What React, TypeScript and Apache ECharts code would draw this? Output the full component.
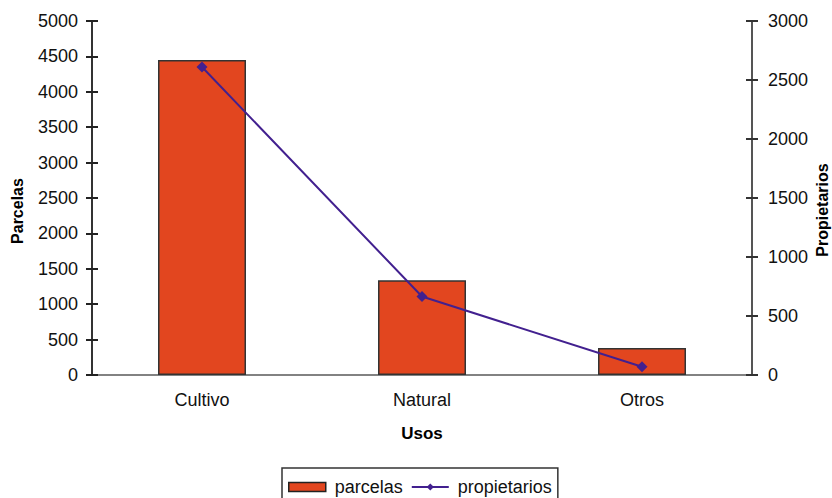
import React, { useEffect, useRef } from "react";
import * as echarts from "echarts";

const categories = ["Cultivo", "Natural", "Otros"];
const parcelas = [4450, 1340, 380];
const propietarios = [2610, 665, 70];
const leftTicks = { min: 0, max: 5000, interval: 500 };
const rightTicks = { min: 0, max: 3000, interval: 500 };

const FONT = "'Liberation Sans', Arial, sans-serif";

export default function App() {
  const ref = useRef<HTMLDivElement>(null);
  useEffect(() => {
    const chart = echarts.init(ref.current!, null, { renderer: "svg" });
    const plain = (v: number) => String(v);
    const labelStyle = { color: "#111", fontSize: 18, fontFamily: FONT };
    chart.setOption({
      animation: false,
      grid: { left: 92, right: 80, top: 21, bottom: 123 },
      textStyle: { fontFamily: FONT },
      xAxis: [
        {
          type: "category",
          data: categories,
          position: "bottom",
          name: "Usos",
          nameLocation: "middle",
          nameGap: 50,
          nameTextStyle: { fontWeight: "bold", fontSize: 17, color: "#000", fontFamily: FONT },
          axisLine: { lineStyle: { color: "#000", width: 1.5 } },
          axisTick: { length: 7, lineStyle: { color: "#222", width: 1.5 } },
          axisLabel: { ...labelStyle, margin: 16 },
        },
        {
          type: "category",
          data: categories,
          position: "top",
          axisLine: { lineStyle: { color: "#999", width: 1.5 } },
          axisTick: { show: false },
          axisLabel: { show: false },
        },
      ],
      yAxis: [
        {
          type: "value",
          ...leftTicks,
          position: "left",
          axisLine: { show: true, lineStyle: { color: "#333", width: 2 } },
          axisTick: { show: true, length: 6, lineStyle: { color: "#222", width: 2 } },
          axisLabel: { ...labelStyle, margin: 14, formatter: plain },
          splitLine: { show: false },
        },
        {
          type: "value",
          ...rightTicks,
          position: "right",
          axisLine: { show: true, lineStyle: { color: "#555", width: 2 } },
          axisTick: { show: true, length: 6, lineStyle: { color: "#333", width: 2 } },
          axisLabel: { ...labelStyle, margin: 16, formatter: plain },
          splitLine: { show: false },
        },
        {
          type: "value",
          ...leftTicks,
          position: "left",
          axisLine: { show: false },
          axisTick: { show: true, inside: true, length: 6, lineStyle: { color: "#222", width: 2 } },
          axisLabel: { show: false },
          splitLine: { show: false },
        },
        {
          type: "value",
          ...rightTicks,
          position: "right",
          axisLine: { show: false },
          axisTick: { show: true, inside: true, length: 6, lineStyle: { color: "#333", width: 2 } },
          axisLabel: { show: false },
          splitLine: { show: false },
        },
      ],
      legend: {
        top: 468,
        left: 282,
        itemGap: 8,
        padding: [10, 6, 12, 6],
        borderColor: "#333",
        borderWidth: 1.5,
        borderRadius: 0,
        textStyle: { color: "#111", fontSize: 18, fontFamily: FONT, padding: [0, 0, 0, 4] },
        data: [
          { name: "parcelas", icon: "rect", itemStyle: { borderColor: "#222", borderWidth: 1.5 } },
          { name: "propietarios" },
        ],
        itemHeight: 9,
        itemWidth: 37,
      },
      graphic: [
        {
          type: "text",
          x: 17,
          y: 211,
          rotation: Math.PI / 2,
          style: {
            text: "Parcelas",
            align: "center",
            verticalAlign: "middle",
            font: `bold 16px ${FONT}`,
            fill: "#000",
          },
        },
        {
          type: "text",
          x: 822,
          y: 210,
          rotation: Math.PI / 2,
          style: {
            text: "Propietarios",
            align: "center",
            verticalAlign: "middle",
            font: `bold 16px ${FONT}`,
            fill: "#000",
          },
        },
      ],
      series: [
        {
          name: "parcelas",
          type: "bar",
          data: parcelas,
          xAxisIndex: 0,
          yAxisIndex: 0,
          barWidth: "40%",
          itemStyle: { color: "#E2461F", borderColor: "#333", borderWidth: 1.5 },
        },
        {
          name: "propietarios",
          type: "line",
          data: propietarios,
          xAxisIndex: 0,
          yAxisIndex: 1,
          symbol: "diamond",
          symbolSize: 11,
          lineStyle: { color: "#42208F", width: 2 },
          itemStyle: { color: "#42208F" },
        },
      ],
    });
    return () => chart.dispose();
  }, []);
  return <div ref={ref} style={{ width: 832, height: 498, position: "absolute", left: 0, top: 0 }} />;
}
